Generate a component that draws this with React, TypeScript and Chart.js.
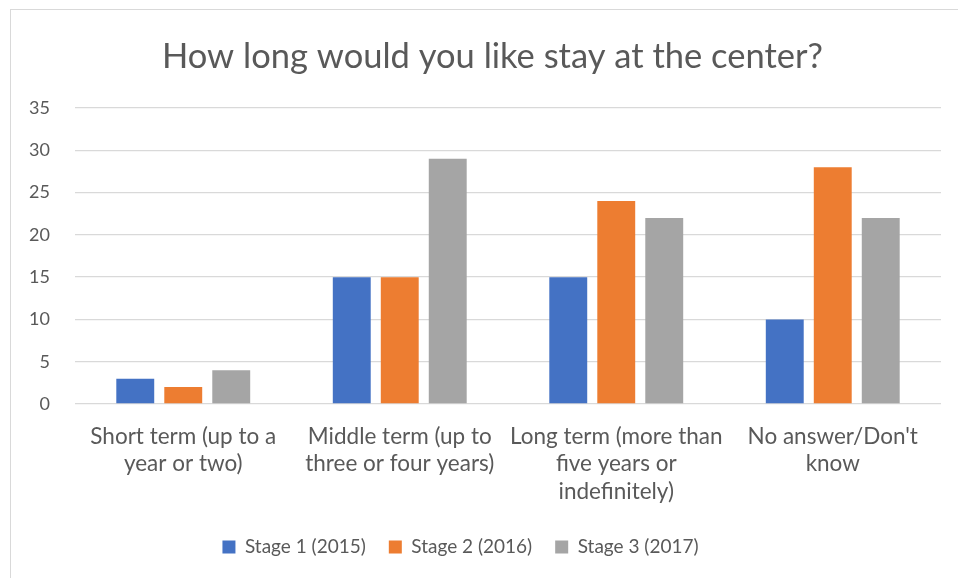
import React, { useEffect, useRef } from "react";
import { Chart, registerables } from "chart.js";

Chart.register(...registerables);

const categories: string[][] = [
  ["Short term (up to a", "year or two)"],
  ["Middle term (up to", "three or four years)"],
  ["Long term (more than", "five years or", "indefinitely)"],
  ["No answer/Don't", "know"],
];
const seriesNames = ["Stage 1 (2015)", "Stage 2 (2016)", "Stage 3 (2017)"];
const stage1 = [3, 15, 15, 10];
const stage2 = [2, 15, 24, 28];
const stage3 = [4, 29, 22, 22];
const seriesColors = ["#4472C4", "#ED7D31", "#A5A5A5"];
const titleText = "How long would you like stay at the center?";
const yMin = 0;
const yMax = 35;
const yStep = 5;

const FONT = "Lato, 'Open Sans', sans-serif";
const TEXT = "#595959";

// nudges the title and legend horizontally to match the reference centring
const shiftPlugin = {
  id: "shiftBlocks",
  afterLayout(chart: any) {
    const t = chart.titleBlock;
    if (t) {
      t.left += 22;
      t.right += 22;
    }
    const l = chart.legend;
    if (l) {
      l.left -= 10;
      l.right -= 10;
    }
  },
};

export default function App() {
  const ref = useRef<HTMLCanvasElement | null>(null);

  useEffect(() => {
    document.body.style.margin = "0";
    document.body.style.overflow = "hidden";
    const canvas = ref.current;
    if (!canvas) return;
    const values = [stage1, stage2, stage3];
    const chart = new Chart(canvas, {
      type: "bar",
      data: {
        labels: categories,
        datasets: seriesNames.map((name, i) => ({
          label: name,
          data: values[i],
          backgroundColor: seriesColors[i],
          borderWidth: 0,
          categoryPercentage: 0.665,
          barPercentage: 0.79,
        })),
      },
      plugins: [shiftPlugin],
      options: {
        responsive: false,
        animation: false,
        devicePixelRatio: 1,
        layout: { padding: { left: 0, right: 17, top: 0, bottom: 11.5 } },
        plugins: {
          tooltip: { enabled: false },
          title: {
            display: true,
            text: titleText,
            color: TEXT,
            font: { family: FONT, size: 34.5, weight: "normal", lineHeight: 1.2 },
            padding: { top: 36, bottom: 30.6 },
          },
          legend: {
            position: "bottom",
            labels: {
              color: TEXT,
              font: { family: FONT, size: 19 },
              boxWidth: 13,
              boxHeight: 13,
              padding: 23,
            },
          },
        },
        scales: {
          x: {
            grid: { display: false, drawTicks: false },
            border: { display: false },
            ticks: {
              color: TEXT,
              font: { family: FONT, size: 22.5, lineHeight: 1.222 },
              padding: 19,
              autoSkip: false,
              maxRotation: 0,
              minRotation: 0,
            },
            afterFit: (scale: any) => {
              scale.height = 110.5;
            },
          },
          y: {
            min: yMin,
            max: yMax,
            grid: { color: "#D9D9D9", lineWidth: 1.3, drawTicks: false },
            border: { display: false },
            ticks: {
              stepSize: yStep,
              color: TEXT,
              font: { family: FONT, size: 18 },
              padding: 25,
            },
            afterFit: (scale: any) => {
              scale.width = 75;
            },
          },
        },
      },
    });
    return () => chart.destroy();
  }, []);

  return (
    <div style={{ position: "fixed", left: 0, top: 0, width: 958, height: 578, background: "#fff", overflow: "hidden" }}>
      <canvas ref={ref} width={958} height={578} style={{ position: "absolute", left: 0, top: 0 }} />
      <div
        style={{
          position: "absolute",
          left: 10,
          top: 9,
          width: 960,
          height: 580,
          borderLeft: "1.5px solid #D9D9D9",
          borderTop: "1.5px solid #D9D9D9",
          pointerEvents: "none",
        }}
      />
    </div>
  );
}
